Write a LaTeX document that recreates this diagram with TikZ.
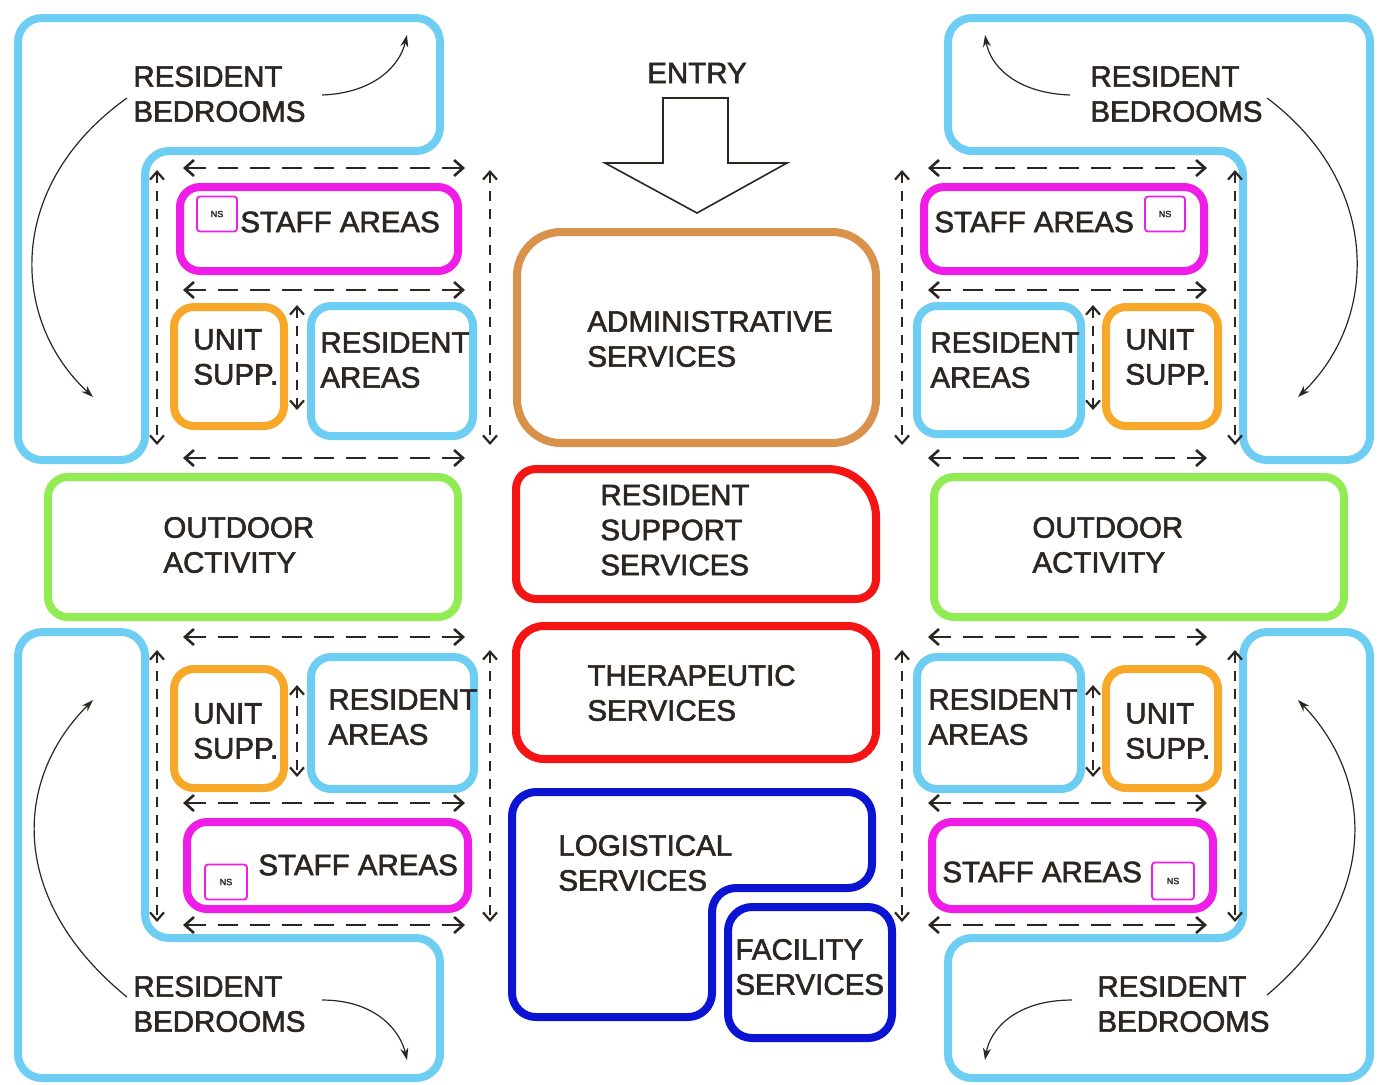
\documentclass[tikz,border=0pt]{standalone}
\usepackage{fontspec}
\setmainfont{Liberation Sans}[FakeBold=2]
\usetikzlibrary{arrows.meta}
\definecolor{skyblue}{HTML}{6DCDF2}
\definecolor{staffpink}{HTML}{F01CE8}
\definecolor{supporange}{HTML}{F8A829}
\definecolor{admintan}{HTML}{D8924C}
\definecolor{servred}{HTML}{F51414}
\definecolor{logblue}{HTML}{0A14D2}
\definecolor{outgreen}{HTML}{90EC52}
\definecolor{ink}{HTML}{2B2622}
\tikzset{
  lbl/.style={anchor=west,align=left,inner sep=0pt,text=ink,font=\fontsize{14.75}{17.5}\selectfont},
  zone/.style={line width=4pt,rounded corners=10pt},
  nsbox/.style={draw=staffpink,line width=0.9pt,rounded corners=1.5pt,inner sep=0pt,
    font=\fontsize{4.5}{5}\selectfont,text=ink},
  hflow/.style={ink,line width=1.3pt,dash pattern=on 10pt off 6pt,{Straight Barb[length=4.5pt,width=8pt]}-{Straight Barb[length=4.5pt,width=8pt]}},
  vflow/.style={ink,line width=1.1pt,dash pattern=on 5pt off 4pt,{Straight Barb[length=4pt,width=7pt]}-{Straight Barb[length=4pt,width=7pt]}},
  turn/.style={ink,line width=0.6pt,-{Stealth[length=6pt,width=4pt]}}
}
\begin{document}
\begin{tikzpicture}[x=0.5pt,y=-0.5pt]
        \useasboundingbox (0,0) rectangle (1384,1084);
        %% bedroom wings
        \draw[zone,skyblue,rounded corners=12pt] (18,18) -- (440,18) -- (440,151) -- (145,151) -- (145,460) -- (18,460) -- cycle;
        \draw[zone,skyblue,rounded corners=12pt] (1370,18) -- (948,18) -- (948,151) -- (1243,151) -- (1243,460) -- (1370,460) -- cycle;
        \draw[zone,skyblue,rounded corners=12pt] (18,632) -- (145,632) -- (145,938) -- (440,938) -- (440,1078) -- (18,1078) -- cycle;
        \draw[zone,skyblue,rounded corners=12pt] (1370,632) -- (1243,632) -- (1243,938) -- (948,938) -- (948,1078) -- (1370,1078) -- cycle;
        \node[lbl] (bedTL) at (133,94) {RESIDENT\\BEDROOMS};
        \node[lbl] (bedTR) at (1090,94) {RESIDENT\\BEDROOMS};
        \node[lbl] (bedBL) at (133,1004) {RESIDENT\\BEDROOMS};
        \node[lbl] (bedBR) at (1097,1004) {RESIDENT\\BEDROOMS};
        %% circulation round the wings
        \draw[turn] (322,95) .. controls (375,93) and (400,65) .. (407,35);
        \draw[turn] (127,98) .. controls (5,185) and (10,320) .. (93,397);
        \draw[turn] (1070,95) .. controls (1015,93) and (990,65) .. (985,35);
        \draw[turn] (1267,98) .. controls (1383,185) and (1378,320) .. (1298,397);
        \draw[turn] (322,1000) .. controls (375,1000) and (400,1030) .. (407,1060);
        \draw[turn] (127,997) .. controls (8,900) and (13,780) .. (93,700);
        \draw[turn] (1072,1000) .. controls (1015,1000) and (990,1030) .. (985,1060);
        \draw[turn] (1267,995) .. controls (1380,900) and (1375,780) .. (1298,700);
        %% top left unit
        \draw[zone,staffpink] (180,187) rectangle (458,271);
        \draw[zone,supporange] (174,307) rectangle (284,426);
        \draw[zone,skyblue] (311,306) rectangle (473,436);
        \node[nsbox,minimum width=20pt,minimum height=17.5pt] (nsTL) at (217,214) {NS};
        \node[lbl] (staffTL) at (240,222) {STAFF AREAS};
        \node[lbl] (suppTL) at (193,357) {UNIT\\SUPP.};
        \node[lbl] (resTL) at (320,360) {RESIDENT\\AREAS};
        %% top right unit
        \draw[zone,staffpink] (924,187) rectangle (1204,271);
        \draw[zone,skyblue] (917,306) rectangle (1081,434);
        \draw[zone,supporange] (1106,307) rectangle (1218,426);
        \node[nsbox,minimum width=20pt,minimum height=17.5pt] (nsTR) at (1165,214) {NS};
        \node[lbl] (staffTR) at (934,222) {STAFF AREAS};
        \node[lbl] (resTR) at (930,360) {RESIDENT\\AREAS};
        \node[lbl] (suppTR) at (1125,357) {UNIT\\SUPP.};
        %% bottom left unit
        \draw[zone,supporange] (174,669) rectangle (284,788);
        \draw[zone,skyblue] (311,657) rectangle (474,789);
        \draw[zone,staffpink] (187,822) rectangle (468,909);
        \node[nsbox,minimum width=21pt,minimum height=17.5pt] (nsBL) at (226,882) {NS};
        \node[lbl] (suppBL) at (193,731) {UNIT\\SUPP.};
        \node[lbl] (resBL) at (328,717) {RESIDENT\\AREAS};
        \node[lbl] (staffBL) at (258,865) {STAFF AREAS};
        %% bottom right unit
        \draw[zone,skyblue] (917,657) rectangle (1081,789);
        \draw[zone,supporange] (1106,669) rectangle (1218,788);
        \draw[zone,staffpink] (932,822) rectangle (1213,909);
        \node[nsbox,minimum width=21pt,minimum height=18.5pt] (nsBR) at (1173,881) {NS};
        \node[lbl] (resBR) at (928,717) {RESIDENT\\AREAS};
        \node[lbl] (suppBR) at (1125,731) {UNIT\\SUPP.};
        \node[lbl] (staffBR) at (942,872) {STAFF AREAS};
        %% movement within the units
        \foreach \a/\b in {183/465,928/1207}
          \foreach \y in {168,290,458,637,803,925}
            \draw[hflow] (\a,\y) -- (\b,\y);
        \foreach \x in {157,490,902,1235}
          \foreach \a/\b in {170/445,650/922}
            \draw[vflow] (\x,\a) -- (\x,\b);
        \foreach \x in {297,1093}
          \foreach \a/\b in {305/410,685/777}
            \draw[vflow] (\x,\a) -- (\x,\b);
        %% outdoor
        \draw[zone,outgreen] (48,477) rectangle (458,617);
        \draw[zone,outgreen] (934,477) rectangle (1344,617);
        \node[lbl] (outL) at (163,545) {OUTDOOR\\ACTIVITY};
        \node[lbl] (outR) at (1032,545) {OUTDOOR\\ACTIVITY};
        %% entry
        \node[text=ink,inner sep=0pt,font=\fontsize{14.75}{17.5}\selectfont] (entry) at (697,73) {ENTRY};
        \draw[ink,line width=0.8pt,line join=miter] (663,98) -- (728,98) -- (728,163) -- (787,163) -- (697,213) -- (605,163) -- (663,163) -- cycle;
        %% core services
        \draw[zone,admintan,rounded corners=22pt] (517,232) rectangle (876,443);
        \node[lbl] (admin) at (587,339) {ADMINISTRATIVE\\SERVICES};
        \draw[zone,servred] (516,599) -- (516,469) [rounded corners=24pt] -- (876,469) [rounded corners=10pt] -- (876,599) -- cycle;
        \node[lbl] (support) at (600,530) {RESIDENT\\SUPPORT\\SERVICES};
        \draw[zone,servred,rounded corners=14pt] (516,626) rectangle (876,759);
        \node[lbl] (thera) at (587,693) {THERAPEUTIC\\SERVICES};
        \draw[zone,logblue,rounded corners=12pt] (512,792) -- (872,792) -- (872,888) -- (712,888) -- (712,1017) -- (512,1017) -- cycle;
        \node[lbl] (logis) at (558,863) {LOGISTICAL\\SERVICES};
        \draw[zone,logblue,rounded corners=12pt] (728,907) rectangle (892,1038);
        \node[lbl] (facil) at (735,967) {FACILITY\\SERVICES};
\end{tikzpicture}
\end{document}
